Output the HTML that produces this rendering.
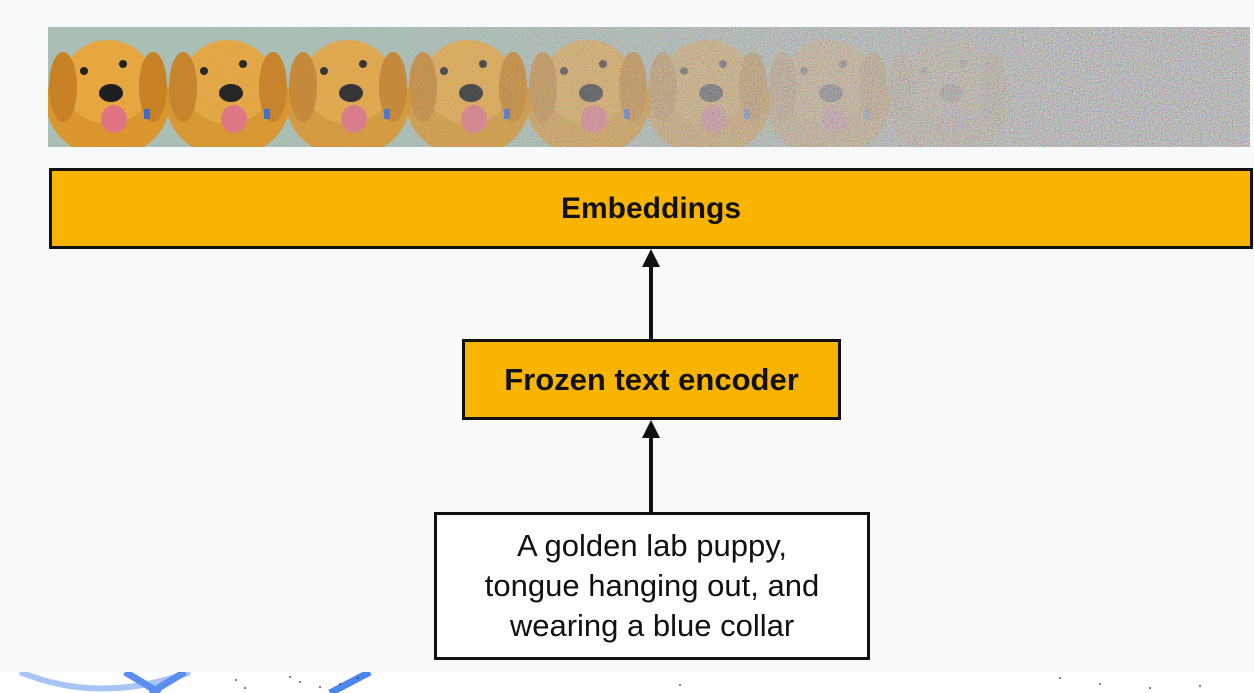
<!DOCTYPE html>
<html><head><meta charset="utf-8"><style>
html,body{margin:0;padding:0}
body{width:1254px;height:693px;position:relative;background:#fff;overflow:hidden;font-family:"Liberation Sans",sans-serif}
#bg{position:absolute;left:0;top:0;width:1254px;height:672px;background:#f8f9fa}
.box{position:absolute;box-sizing:border-box;border:3px solid #111;display:flex;align-items:center;justify-content:center;text-align:center;color:#111}
.y{background:#f9b400;font-weight:bold}
</style></head><body>
<svg style="position:absolute;left:0;top:0" width="1254" height="693">
<path d="M20 672 Q100 705 190 672" stroke="#a8c4f5" stroke-width="6" fill="none"/>
<path d="M125 672 L160 693 M150 693 L185 672" stroke="#5b8def" stroke-width="7"/>
<path d="M330 693 L370 672" stroke="#4a85f0" stroke-width="7"/>
<g fill="#555"><circle cx="236" cy="680" r="1"/><circle cx="245" cy="688" r="1"/><circle cx="290" cy="677" r="1"/><circle cx="300" cy="682" r="1"/><circle cx="320" cy="687" r="1"/><circle cx="340" cy="684" r="1"/><circle cx="358" cy="678" r="1"/><circle cx="1060" cy="678" r="1"/><circle cx="1100" cy="684" r="1"/><circle cx="1150" cy="688" r="1"/><circle cx="1200" cy="686" r="1"/><circle cx="680" cy="685" r="1"/></g>
</svg>
<div id="bg"></div>
<svg style="position:absolute;left:48px;top:27px" width="1202" height="120">
<defs>
<filter id="n" x="0" y="0" width="100%" height="100%">
<feTurbulence type="fractalNoise" baseFrequency="0.9" numOctaves="2" seed="3"/>
<feColorMatrix type="matrix" values="1.4 0 0 0 -0.15  0 1.4 0 0 -0.15  0 0 1.4 0 -0.15  0 0 0 0 1"/>
</filter>
<g id="p">
<rect width="120" height="120" fill="#a9bfb4"/>
<ellipse cx="60" cy="75" rx="62" ry="55" fill="#d9962e"/>
<ellipse cx="60" cy="55" rx="45" ry="42" fill="#e6a640"/>
<ellipse cx="15" cy="60" rx="14" ry="35" fill="#c88226"/>
<ellipse cx="105" cy="60" rx="14" ry="35" fill="#c88226"/>
<circle cx="36" cy="44" r="4" fill="#222"/><circle cx="75" cy="37" r="4" fill="#222"/>
<ellipse cx="63" cy="66" rx="12" ry="9" fill="#1f1f22"/>
<ellipse cx="66" cy="92" rx="13" ry="14" fill="#e07482"/>
<rect x="96" y="82" width="6" height="10" fill="#3d6ccf"/>
</g>
</defs>
<rect width="1202" height="120" filter="url(#n)"/>
<rect width="1202" height="120" fill="#9a9a9a" opacity="0.25"/>
<use href="#p" x="0"/>
<use href="#p" x="120" opacity="0.95"/>
<use href="#p" x="240" opacity="0.85"/>
<use href="#p" x="360" opacity="0.7"/>
<use href="#p" x="480" opacity="0.5"/>
<use href="#p" x="600" opacity="0.32"/>
<use href="#p" x="720" opacity="0.18"/>
<use href="#p" x="840" opacity="0.07"/>
</svg>
<div class="box y" style="left:49px;top:168px;width:1204px;height:81px;font-size:30px">Embeddings</div>
<div class="box y" style="left:462px;top:339px;width:379px;height:81px;font-size:31px">Frozen text encoder</div>
<div class="box" style="left:434px;top:512px;width:436px;height:148px;background:#fff;font-size:31px;line-height:40px">A golden lab puppy,<br>tongue hanging out, and<br>wearing a blue collar</div>
<svg style="position:absolute;left:0;top:0" width="1254" height="693">
<line x1="651" y1="339" x2="651" y2="262" stroke="#111" stroke-width="4"/>
<polygon points="642,267 660,267 651,249" fill="#111"/>
<line x1="651" y1="512" x2="651" y2="433" stroke="#111" stroke-width="4"/>
<polygon points="642,438 660,438 651,420" fill="#111"/>
</svg>
</body></html>
